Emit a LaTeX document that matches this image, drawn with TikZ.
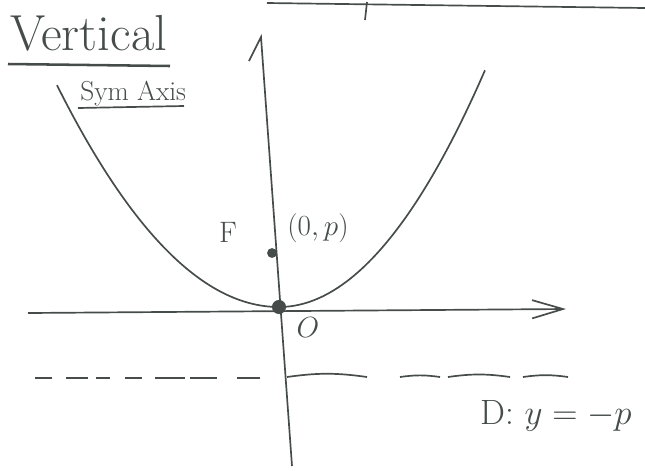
\documentclass[tikz,border=0pt]{standalone}
\usepackage{amsmath}
\usetikzlibrary{calc,arrows.meta}

\begin{document}
\begin{tikzpicture}[x=0.025cm,y=-0.025cm]

        % Define colors for pencil lines
        \definecolor{pencil}{rgb}{0.27, 0.30, 0.29} % Greyish pencil
        \tikzset{
          stroke/.style={pencil, line width=1.2pt},
          axis/.style={stroke, -{Straight Barb[length=22pt,width=13pt]}},
          dot/.style={circle, fill=pencil, inner sep=0pt},
          hand/.style={text=pencil, inner sep=0pt}
        }

        % Fix the page to the reference size
        \useasboundingbox (0,0) rectangle (645,470);

        % Edge of the drawing above
        \draw[stroke] (267,3) -- (645,8);
        \draw[stroke] (367,2) -- (365,20);

        % Title and its underlines
        \node[hand, anchor=base west] (vert) at (10,50) {\fontsize{36}{40}\selectfont Vertical};
        \draw[stroke, line width=1.8pt] (8,64) -- (170,66);
        \node[hand, anchor=base west] (sym) at (80,100) {\fontsize{19.5}{23}\selectfont Sym Axis};
        \draw[stroke] (78,108) -- (184,106);

        % Axes
        \coordinate (xl) at (28,313);
        \coordinate (xr) at (566,309);
        \coordinate (yb) at (292,466);
        \coordinate (yt) at (261,37);
        \coordinate (ybarb) at (249,61);
        \draw[axis] (xl) -- (xr);
        \draw[stroke] (yb) -- (yt) -- (ybarb); % one-sided arrow head

        % Parabola through the origin (u in hundreds of px)
        \draw[stroke] plot[domain=-2.22:0, samples=40, smooth, variable=\u]
          ({279+100*\u},{307-45*\u*\u});
        \draw[stroke] plot[domain=0:2.06, samples=40, smooth, variable=\u]
          ({279+100*\u},{307-55.8*\u*\u});

        % Focus and vertex
        \node[dot, minimum size=7pt] (F) at (272,253) {};
        \node[dot, minimum size=10pt] (O) at (279,307) {};
        \node[hand] (Flab) at (228,232) {\fontsize{21}{24}\selectfont F};
        \node[hand] (Fco) at (318,228) {\fontsize{22}{26}\selectfont $(0,p)$};
        \node[hand] (Olab) at (308,328) {\fontsize{21}{24}\selectfont $O$};

        % Directrix, dash by dash
        \foreach \a/\b in {35/52, 66/88, 96/110, 125/142, 155/185, 190/217, 237/260}
          \draw[stroke] (\a,378) -- (\b,378);
        \foreach \a/\b in {287/367, 400/440, 448/510, 523/568}
          \draw[stroke] (\a,377) to[bend left=8] (\b,377);
        \node[hand, anchor=base] (D) at (556,424) {\fontsize{25}{30}\selectfont D: $y=-p$};

\end{tikzpicture}
\end{document}
